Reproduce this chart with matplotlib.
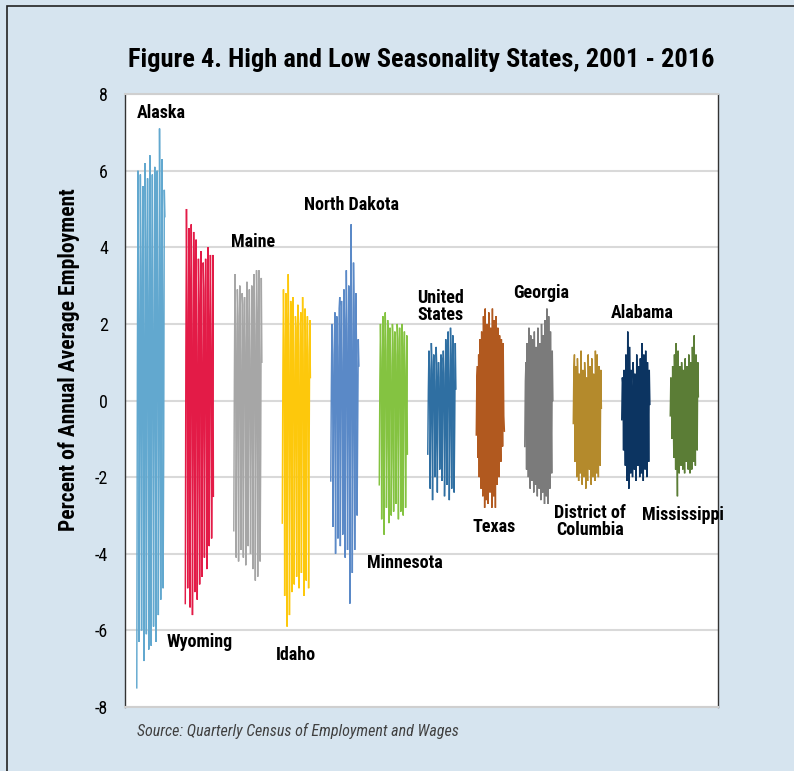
import matplotlib
matplotlib.use("Agg")
import matplotlib.pyplot as plt
from matplotlib.patches import Rectangle
import numpy as np

NARROW = ['Roboto Condensed', 'DejaVu Sans']

states = ['Alaska', 'Wyoming', 'Maine', 'Idaho', 'North Dakota', 'Minnesota',
          'United\nStates', 'Texas', 'Georgia', 'District of\nColumbia',
          'Alabama', 'Mississippi']
colors = ['#62a8cf', '#e31b47', '#a6a6a6', '#fdc80c', '#5a89c7', '#84c341',
          '#2f6fa2', '#b1591f', '#7b7b7b', '#b48a2c', '#0c3461', '#5b7d36']

# percent deviation from annual average employment
alaska = [-7.5, 0.8, 6.0, 2.1, -6.3, -1.0, 5.9, 3.5, -6.0, 0.2, 5.6, 1.8, -6.8, -2.3, 6.2, 4.1,
          -6.1, 0.6, 5.8, 2.7, -6.5, -1.4, 6.4, 3.2, -6.4, 0.9, 5.9, 1.5, -5.9, -0.8, 6.1, 3.8,
          -6.3, 1.1, 6.0, 2.4, -5.6, -1.9, 7.1, 3.9, -5.2, 0.4, 6.3, 2.6, -4.9, -1.2, 5.5, 4.8]
wyoming = [-5.3, 1.2, 5.0, 2.3, -4.9, -0.8, 4.5, 3.1, -5.4, 0.6, 4.6, 1.9, -5.6, -1.7, 4.4, 2.8,
           -5.0, 0.3, 4.2, 1.4, -5.2, -2.0, 3.7, 2.5, -4.8, 0.9, 3.9, 1.0, -4.6, -1.1, 3.6, 2.9,
           -4.1, 0.2, 3.7, 1.6, -4.4, -1.5, 4.0, 2.2, -3.8, 0.7, 3.8, 1.3, -3.6, -0.9, 3.8, -2.5]
maine = [-3.4, 0.5, 3.3, 1.8, -4.1, -1.0, 2.9, 2.2, -4.2, 0.3, 3.0, 1.2, -3.9, -1.6, 2.8, 2.5,
         -4.1, 0.8, 2.7, 1.5, -4.3, -0.7, 3.1, 2.0, -3.8, 0.1, 2.9, 1.1, -4.0, -1.3, 3.0, 2.6,
         -4.4, 0.4, 3.3, 1.7, -4.7, -0.9, 3.4, 2.3, -4.6, 0.6, 3.4, 1.0, -4.2, -1.4, 3.2, 1.0]
idaho = [-3.2, 0.7, 2.9, 1.6, -5.1, -0.9, 2.8, 2.1, -5.9, 0.2, 3.3, 1.3, -5.6, -1.8, 2.6, 2.4,
         -5.0, 0.5, 2.7, 1.0, -4.8, -1.2, 2.2, 1.9, -4.6, 0.0, 2.5, 1.4, -4.9, -2.2, 2.0, 2.3,
         -4.5, 0.4, 2.7, 1.1, -5.1, -1.5, 2.4, 1.8, -4.7, 0.3, 2.2, 1.2, -4.9, -1.0, 2.1, 0.6]
north_dakota = [-2.1, 0.4, 2.0, 1.2, -3.3, -0.6, 1.6, 2.3, -4.0, 0.1, 2.2, 1.4, -3.6, -1.0, 2.4, 2.7,
                -3.8, 0.6, 2.6, 1.0, -3.5, -1.4, 2.9, 2.1, -4.1, 0.3, 3.4, 1.8, -3.9, -0.8, 3.0, 2.5,
                -5.3, 0.2, 4.6, 1.6, -4.5, -1.1, 3.6, 2.4, -3.9, 0.5, 2.8, 1.3, -3.0, -0.7, 1.6, 0.9]
minnesota = [-2.2, 0.5, 2.0, 1.1, -3.1, -0.7, 2.2, 1.6, -3.5, 0.2, 2.3, 1.3, -2.8, -1.2, 2.1, 1.8,
             -3.2, 0.4, 1.9, 0.9, -3.0, -1.5, 2.0, 1.5, -2.9, 0.1, 1.8, 1.2, -2.7, -0.9, 2.0, 1.6,
             -3.1, 0.3, 1.9, 1.0, -2.9, -1.3, 2.0, 1.4, -3.0, 0.6, 1.8, 0.8, -2.8, -0.5, 1.7, -1.4]
united_states = [-1.4, 0.3, 1.3, 0.8, -2.3, -0.6, 1.5, 1.0, -2.6, 0.1, 1.2, 0.5, -2.0, -1.1, 1.4, 0.9,
                 -2.4, 0.2, 1.0, 0.6, -1.8, -0.8, 1.2, 1.1, -2.1, 0.0, 1.3, 0.7, -2.5, -1.3, 1.6, 0.9,
                 -2.2, 0.4, 1.8, 0.6, -2.6, -0.9, 1.9, 1.2, -2.3, 0.2, 1.7, 0.8, -2.4, -0.7, 1.5, 0.3]
texas = [-0.9, 0.6, 0.9, -1.5, 1.2, -2.0, 1.6, 0.3, -2.3, 1.8, -0.4, -2.5, 2.2, 0.8, -2.8, 2.4,
         -1.0, -2.6, 2.0, 0.5, -2.7, 2.3, -0.6, -2.4, 1.9, 0.2, -2.8, 2.4, -0.9, -2.5, 2.1, 0.7,
         -2.8, 2.2, -0.3, -2.2, 1.9, 0.4, -2.0, 1.7, -0.5, -1.6, 1.6, 0.2, -1.2, 1.5, -0.4, -0.8]
georgia = [-1.2, 0.5, 1.0, -1.8, 1.5, 0.2, -2.0, 1.9, -0.6, -2.3, 1.7, 0.4, -2.1, 1.6, -0.9, -2.4,
           1.8, 0.6, -2.2, 1.4, -0.3, -2.5, 1.9, 0.8, -2.3, 1.5, -1.0, -2.6, 2.0, 0.3, -2.4, 1.7,
           -0.5, -2.7, 2.1, 0.9, -2.5, 2.4, -0.8, -2.7, 2.2, 0.1, -2.3, 1.8, -0.4, -1.9, 1.3, 0.0]
dist_columbia = [-0.6, 0.8, 1.2, -1.6, 0.9, -0.3, -2.0, 1.1, 0.4, -2.1, 0.7, -0.9, -1.9, 1.3, 0.2, -2.2,
                 0.8, -0.5, -2.0, 1.0, 0.5, -2.3, 0.6, -1.1, -2.1, 1.2, 0.1, -1.8, 0.9, -0.4, -2.2, 1.1,
                 0.3, -2.0, 0.7, -0.8, -2.1, 1.3, 0.2, -1.9, 1.2, -0.6, -2.0, 0.9, 0.4, -1.7, 0.8, -0.2]
alabama = [-0.5, 0.6, 0.4, -1.3, 0.8, -0.2, -1.7, 1.2, 0.3, -2.1, 1.8, -0.7, -2.3, 1.4, 0.1, -1.9,
           0.8, -0.4, -2.0, 1.0, 0.5, -1.8, 0.7, -1.0, -2.1, 1.2, 0.2, -1.7, 0.9, -0.3, -2.0, 1.1,
           0.4, -1.9, 1.5, -0.6, -2.1, 1.2, 0.3, -1.8, 1.3, -0.5, -2.0, 1.0, 0.2, -1.6, 0.8, -0.1]
mississippi = [-0.4, 0.6, 0.5, -1.0, 0.9, -0.3, -1.5, 1.2, 0.2, -1.8, 1.5, -0.6, -2.5, 1.3, 0.3, -1.9,
               0.9, -0.5, -1.7, 1.0, 0.4, -1.8, 0.8, -0.9, -1.9, 1.1, 0.1, -1.6, 0.9, -0.4, -1.8, 1.2,
               0.3, -1.9, 1.0, -0.7, -1.8, 1.4, 0.2, -1.6, 1.7, -0.5, -1.7, 1.2, 0.4, -1.3, 1.0, 0.1]

series = [alaska, wyoming, maine, idaho, north_dakota, minnesota,
          united_states, texas, georgia, dist_columbia, alabama, mississippi]

# label anchor points (x in category units, y in data units)
label_pos = [(0.51, 7.5), (1.30, -6.3), (2.39, 4.15), (3.28, -6.65), (4.43, 5.1), (5.52, -4.25),
             (6.27, 2.45), (7.36, -3.3), (8.33, 2.8), (9.34, -3.15), (10.43, 2.28), (11.26, -2.98)]

fig = plt.figure(figsize=(7.94, 7.71), dpi=100)
fig.patch.set_facecolor('#d6e4ef')
fig.patches.append(Rectangle((0.009, -0.05), 1.2, 1.042, transform=fig.transFigure,
                             fill=False, edgecolor='#222222', linewidth=1.2))

ax = fig.add_axes([0.157, 0.083, 0.747, 0.795])
ax.set_facecolor('white')

band = 0.58
for i, vals in enumerate(series):
    xs = i + np.linspace(0, band, len(vals))
    ax.plot(xs, vals, color=colors[i], linewidth=1.05, solid_joinstyle='miter')

for (lx, ly), name in zip(label_pos, states):
    ax.text(lx, ly, name, ha='center', va='center', fontsize=13, fontweight='bold',
            family=NARROW, fontstretch='condensed', linespacing=0.95)

ax.set_xlim(-0.25, 11.98)
ax.set_ylim(-8, 8)
ax.set_yticks(range(-8, 9, 2))
ax.set_yticklabels([str(v) for v in range(-8, 9, 2)], family=NARROW, fontsize=13,
                   fontstretch='condensed')
ax.set_xticks([])
ax.tick_params(axis='y', length=0, pad=12)
ax.yaxis.grid(True, color='#d9d9d9', linewidth=1.5)
ax.set_axisbelow(True)
for s in ['left', 'right']:
    ax.spines[s].set_color('#333333')
    ax.spines[s].set_linewidth(1.0)
for s in ['top', 'bottom']:
    ax.spines[s].set_color('#cfcfcf')
    ax.spines[s].set_linewidth(1.5)

ax.set_ylabel('Percent of Annual Average Employment', family=NARROW, fontsize=15.5,
              fontweight='bold', fontstretch='condensed')
ax.yaxis.set_label_coords(-0.075, 0.566)

fig.text(0.53, 0.922, 'Figure 4. High and Low Seasonality States, 2001 - 2016',
         ha='center', va='center', family=NARROW, fontsize=19, fontweight='bold',
         fontstretch='condensed')
fig.text(0.172, 0.052, 'Source: Quarterly Census of Employment and Wages',
         ha='left', va='center', family=NARROW, fontsize=11.5, style='italic',
         fontstretch='condensed', color='#404040')

fig.savefig('out.png', dpi=100, facecolor=fig.get_facecolor())
